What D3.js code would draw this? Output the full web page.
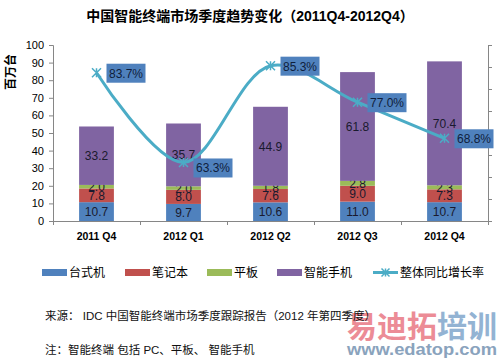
<html>
<head>
<meta charset="utf-8">
<script src="https://d3js.org/d3.v7.min.js"></script>
<style>
body { margin: 0; background: #fff; }
svg text { font-family: "Liberation Sans", "Noto Sans CJK SC", sans-serif; }
.axis path, .axis line { stroke: #868686; }
.axis text { fill: #000; }
</style>
</head>
<body>
<svg width="500" height="363"></svg>
<script>
var quarters = ["2011 Q4", "2012 Q1", "2012 Q2", "2012 Q3", "2012 Q4"];
var desktop = [10.7, 9.7, 10.6, 11.0, 10.7];
var notebook = [7.8, 8.0, 7.6, 9.0, 7.3];
var tablet = [2.0, 2.0, 1.8, 2.8, 2.3];
var smartphone = [33.2, 35.7, 44.9, 61.8, 70.4];
var growth = [0.837, 0.633, 0.853, 0.770, 0.688];
var seriesNames = ["台式机", "笔记本", "平板", "智能手机"];
var lineName = "整体同比增长率";
var yTicks = [0, 10, 20, 30, 40, 50, 60, 70, 80, 90, 100];
var y2Ticks = [0.5, 0.55, 0.6, 0.65, 0.7, 0.75, 0.8, 0.85, 0.9];

var colors = ["#4F81BD", "#C0504D", "#9BBB59", "#8064A2"];
var lineColor = "#4BACC6";

var svg = d3.select("svg");
var plotL = 53, plotR = 488, plotT = 45, plotB = 221;

var x = d3.scaleBand().domain(quarters).range([plotL, plotR])
  .paddingInner(0.6).paddingOuter(0.3);
var y = d3.scaleLinear().domain([0, 100]).range([plotB, plotT]);
var y2 = d3.scaleLinear().domain([0.5, 0.9]).range([plotB, plotT]);

// title
svg.append("text")
  .attr("x", 250).attr("y", 21)
  .attr("text-anchor", "middle")
  .style("font-size", "14px").style("font-weight", "bold")
  .text("中国智能终端市场季度趋势变化（2011Q4-2012Q4）");

// y label
svg.append("text")
  .attr("transform", "translate(15,72) rotate(-90)")
  .attr("text-anchor", "middle")
  .style("font-size", "12px").style("font-weight", "bold")
  .text("百万台");

// watermark (sits under the footnote text)
var wm = svg.append("text").attr("x", 347).attr("y", 337)
  .attr("textLength", 150).attr("lengthAdjust", "spacingAndGlyphs")
  .style("font-size", "30px").style("font-weight", "bold");
wm.append("tspan").attr("fill", "#ec8c96").text("易迪拓");
wm.append("tspan").attr("fill", "#93b3d3").text("培训");
svg.append("text").attr("x", 347).attr("y", 355)
  .attr("textLength", 150).attr("lengthAdjust", "spacingAndGlyphs")
  .style("font-size", "17px").style("font-weight", "bold")
  .attr("fill", "#8aa3bd").text("www.edatop.com");

// stacked bars
var rows = quarters.map(function(q, i) {
  return {q: q, s0: desktop[i], s1: notebook[i], s2: tablet[i], s3: smartphone[i]};
});
var stack = d3.stack().keys(["s0", "s1", "s2", "s3"])(rows);

var layers = svg.append("g").selectAll("g")
  .data(stack).enter().append("g")
  .attr("fill", function(d, i) { return colors[i]; });

layers.selectAll("rect")
  .data(function(d) { return d; })
  .enter().append("rect")
  .attr("x", function(d) { return x(d.data.q); })
  .attr("y", function(d) { return y(d[1]); })
  .attr("width", x.bandwidth())
  .attr("height", function(d) { return y(d[0]) - y(d[1]); });

layers.selectAll("text")
  .data(function(d) { return d; })
  .enter().append("text")
  .attr("x", function(d) { return x(d.data.q) + x.bandwidth() / 2; })
  .attr("y", function(d) { return (y(d[0]) + y(d[1])) / 2 + 4.5; })
  .attr("text-anchor", "middle")
  .attr("fill", "#1a1a2e")
  .style("font-size", "12px")
  .text(function(d) { return (d[1] - d[0]).toFixed(1); });

// axes
svg.append("g").attr("class", "axis")
  .attr("transform", "translate(" + plotL + ",0)")
  .call(d3.axisLeft(y).tickValues(yTicks).tickSize(4).tickSizeOuter(4).tickPadding(5))
  .selectAll("text").style("font-size", "11px");

svg.append("g").attr("class", "axis")
  .attr("transform", "translate(" + plotR + ",0)")
  .call(d3.axisRight(y2).tickValues(y2Ticks).tickSize(4).tickSizeOuter(4).tickFormat(""));

var xb = d3.scaleLinear().domain([0, quarters.length]).range([plotL, plotR]);
svg.append("g").attr("class", "axis")
  .attr("transform", "translate(0," + plotB + ")")
  .call(d3.axisBottom(xb).tickValues(d3.range(quarters.length + 1)).tickSize(4).tickSizeOuter(0).tickFormat(""));

svg.append("g").attr("class", "axis")
  .attr("transform", "translate(0," + plotB + ")")
  .call(d3.axisBottom(x).tickSize(0).tickPadding(12))
  .call(function(g) { g.select(".domain").remove(); })
  .selectAll("text").style("font-size", "10.5px").style("font-weight", "bold").attr("fill", "#222");

// growth line
var cx = function(d, i) { return x(quarters[i]) + x.bandwidth() / 2; };
var line = d3.line().x(cx).y(function(d) { return y2(d); }).curve(d3.curveCatmullRom.alpha(0.5));

svg.append("path").datum(growth)
  .attr("d", line)
  .attr("fill", "none").attr("stroke", lineColor).attr("stroke-width", 3);

function star(g, px, py, s) {
  g.append("path")
    .attr("d", "M" + (px - s) + "," + (py - s) + "L" + (px + s) + "," + (py + s) +
      "M" + (px - s) + "," + (py + s) + "L" + (px + s) + "," + (py - s) +
      "M" + px + "," + (py - s) + "L" + px + "," + (py + s))
    .attr("stroke", lineColor).attr("stroke-width", 1.5).attr("fill", "none");
}

var pts = svg.append("g");
growth.forEach(function(d, i) {
  var px = cx(d, i), py = y2(d);
  star(pts, px, py, 4.5);
  pts.append("rect")
    .attr("x", px + 10).attr("y", py - 9 + (i == 1 ? 5 : 0))
    .attr("width", 39).attr("height", 19)
    .attr("fill", "#4F81BD");
  pts.append("text")
    .attr("x", px + 29.5).attr("y", py + 5 + (i == 1 ? 5 : 0))
    .attr("text-anchor", "middle")
    .attr("fill", "#0f1e3c")
    .style("font-size", "12px")
    .text((d * 100).toFixed(1) + "%");
});

// legend
var legend = svg.append("g");
var legX = [42, 125, 207, 277];
seriesNames.forEach(function(n, i) {
  legend.append("rect").attr("x", legX[i]).attr("y", 269).attr("width", 25).attr("height", 7).attr("fill", colors[i]);
  legend.append("text").attr("x", legX[i] + 27).attr("y", 277).style("font-size", "12px").text(n);
});
legend.append("line").attr("x1", 373).attr("x2", 398).attr("y1", 272.5).attr("y2", 272.5)
  .attr("stroke", lineColor).attr("stroke-width", 3);
star(legend, 385.5, 272.5, 4);
legend.append("text").attr("x", 400).attr("y", 277).style("font-size", "12px").text(lineName);

// notes
svg.append("text").attr("x", 45).attr("y", 320).style("font-size", "11.5px").attr("fill", "#111")
  .text("来源： IDC 中国智能终端市场季度跟踪报告（2012 年第四季度）");
svg.append("text").attr("x", 45).attr("y", 354).style("font-size", "11.5px").attr("fill", "#111")
  .text("注：智能终端 包括 PC、平板、 智能手机");
</script>
</body>
</html>
